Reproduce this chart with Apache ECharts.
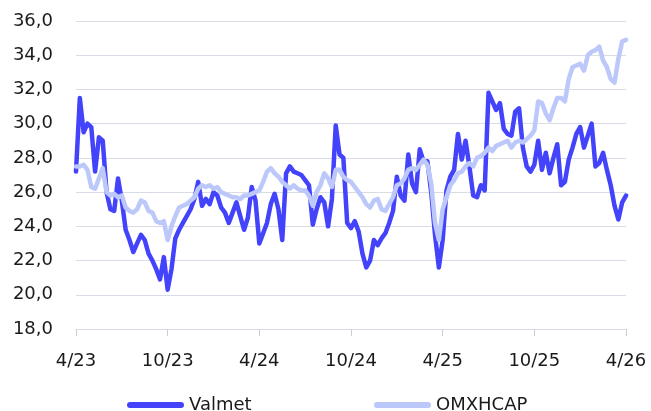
<!DOCTYPE html>
<html>
<head>
<meta charset="utf-8">
<script src="https://cdn.jsdelivr.net/npm/echarts@6/dist/echarts.min.js"></script>
<style>
  html, body { margin: 0; padding: 0; background: #fff; }
  #main { width: 651px; height: 411px; }
</style>
</head>
<body>
<div id="main"></div>
<script>
// weekly readings, 4/23 .. 4/26 (24 points per half year)
const tickLabels = ['4/23', '10/23', '4/24', '10/24', '4/25', '10/25', '4/26'];
const pointsPerTick = 24;

const valmet = [
  27.2, 31.5, 29.5, 30.0, 29.8, 27.2, 29.2, 29.0, 26.0, 25.0, 24.9, 26.8, 25.5, 23.8, 23.2, 22.5, 23.0, 23.5, 23.2, 22.4, 22.0, 21.5, 20.9, 22.2, 20.3, 21.5, 23.3, 23.8, 24.2,
  24.6, 25.0, 25.6, 26.6, 25.2, 25.6, 25.3, 26.0, 25.8, 25.1, 24.8, 24.2, 24.8, 25.4, 24.6, 23.8, 24.5, 26.3, 25.5, 23.0, 23.6, 24.2, 25.3, 25.9, 25.0, 23.2, 27.1, 27.5,
  27.2, 27.1, 27.0, 26.7, 26.4, 24.1, 25.0, 25.7, 25.4, 24.0, 25.6, 29.9, 28.2, 28.0, 24.2, 23.9, 24.3, 23.7, 22.4, 21.6, 22.0, 23.2, 22.9, 23.3, 23.6, 24.2, 24.9, 26.9,
  25.8, 25.5, 28.2, 26.5, 26.0, 28.5, 27.8, 27.8, 26.0, 23.5, 21.6, 23.2, 26.1, 26.9, 27.3, 29.4, 27.9, 29.0, 27.5, 25.8, 25.7, 26.4, 26.1, 31.8, 31.3, 30.8, 31.2, 29.7, 29.4,
  29.3, 30.7, 30.9, 28.6, 27.5, 27.2, 27.6, 29.0, 27.3, 28.3, 27.1, 28.0, 28.8, 26.4, 26.6, 27.9, 28.6, 29.4, 29.8, 28.6, 29.3, 30.0, 27.5, 27.7, 28.3, 27.3, 26.4, 25.2, 24.4, 25.4, 25.8
];

const omxhcap = [
  27.5, 27.5, 27.6, 27.3, 26.3, 26.2, 26.8, 27.4, 26.0, 25.8, 25.9, 25.7, 25.8, 25.1, 24.9, 24.8, 25.0, 25.5, 25.4, 24.9, 24.8, 24.3, 24.2, 24.3, 23.2, 24.0, 24.6, 25.1, 25.2,
  25.3, 25.5, 25.7, 26.2, 26.4, 26.3, 26.4, 26.2, 26.3, 26.0, 25.9, 25.8, 25.7, 25.7, 25.6, 25.8, 25.8, 25.9, 26.0, 26.1, 26.6, 27.2, 27.4, 27.1, 26.9, 26.6, 26.4, 26.2,
  26.4, 26.2, 26.1, 26.1, 25.8, 25.2, 26.0, 26.4, 27.1, 26.8, 26.3, 27.3, 27.3, 26.9, 26.7, 26.6, 26.3, 26.0, 25.7, 25.3, 25.1, 25.5, 25.6, 25.0, 24.9, 25.3, 25.7, 26.4,
  26.5, 26.8, 27.3, 27.4, 27.3, 27.6, 27.9, 27.6, 26.5, 24.2, 23.2, 25.0, 25.7, 26.4, 26.7, 27.1, 27.2, 27.5, 27.7, 27.5, 28.0, 28.1, 28.3, 28.6, 28.4, 28.7, 28.8, 28.9, 29.0,
  28.6, 28.9, 29.0, 28.9, 29.1, 29.3, 29.6, 31.3, 31.2, 30.6, 30.2, 30.9, 31.5, 31.5, 31.3, 32.6, 33.3, 33.4, 33.5, 33.1, 34.0, 34.2, 34.3, 34.5, 33.7, 33.3, 32.6, 32.4, 33.8, 34.8, 34.9
];

const categories = valmet.map((_, i) => String(i));

const font = 'DejaVu Sans';
const gridColor = '#d9dce4';
const pill = 'path://M3,0H54A3,3,0,0,1,54,6H3A3,3,0,0,1,3,0Z';

let myChart = echarts.init(document.getElementById('main'));
myChart.setOption({
  animation: false,
  textStyle: { fontFamily: font },
  grid: { left: 76, right: 25, top: 21, bottom: 82 },
  legend: [
    {
      left: 122, top: 391, data: ['Valmet'],
      icon: pill, itemWidth: 57, itemHeight: 6,
      textStyle: { fontFamily: font, fontSize: 18, color: '#1a1a1a' }
    },
    {
      left: 369, top: 391, data: ['OMXHCAP'],
      icon: pill, itemWidth: 57, itemHeight: 6,
      textStyle: { fontFamily: font, fontSize: 18, color: '#1a1a1a' }
    }
  ],
  xAxis: {
    type: 'category',
    data: categories,
    boundaryGap: false,
    axisLine: { lineStyle: { color: gridColor, width: 1 } },
    axisTick: { interval: pointsPerTick - 1, length: 7, lineStyle: { color: '#c9cdd8' } },
    axisLabel: {
      interval: pointsPerTick - 1,
      margin: 23,
      fontSize: 18,
      color: '#1a1a1a',
      fontFamily: font,
      formatter: (v, i) => tickLabels[i / pointsPerTick] || ''
    },
    splitLine: { show: false }
  },
  yAxis: {
    type: 'value',
    min: 18,
    max: 36,
    interval: 2,
    axisLine: { show: false },
    axisTick: { show: false },
    axisLabel: {
      margin: 23,
      fontSize: 18,
      color: '#1a1a1a',
      fontFamily: font,
      formatter: v => v.toFixed(1).replace('.', ',')
    },
    splitLine: { lineStyle: { color: gridColor, width: 1 } }
  },
  series: [
    {
      name: 'Valmet',
      type: 'line',
      data: valmet,
      color: '#4343fb',
      symbol: 'none',
      lineStyle: { width: 4.5, join: 'round', cap: 'round' }
    },
    {
      name: 'OMXHCAP',
      type: 'line',
      data: omxhcap,
      color: '#bcc8fa',
      symbol: 'none',
      lineStyle: { width: 4.5, join: 'round', cap: 'round' }
    }
  ]
});
</script>
</body>
</html>
